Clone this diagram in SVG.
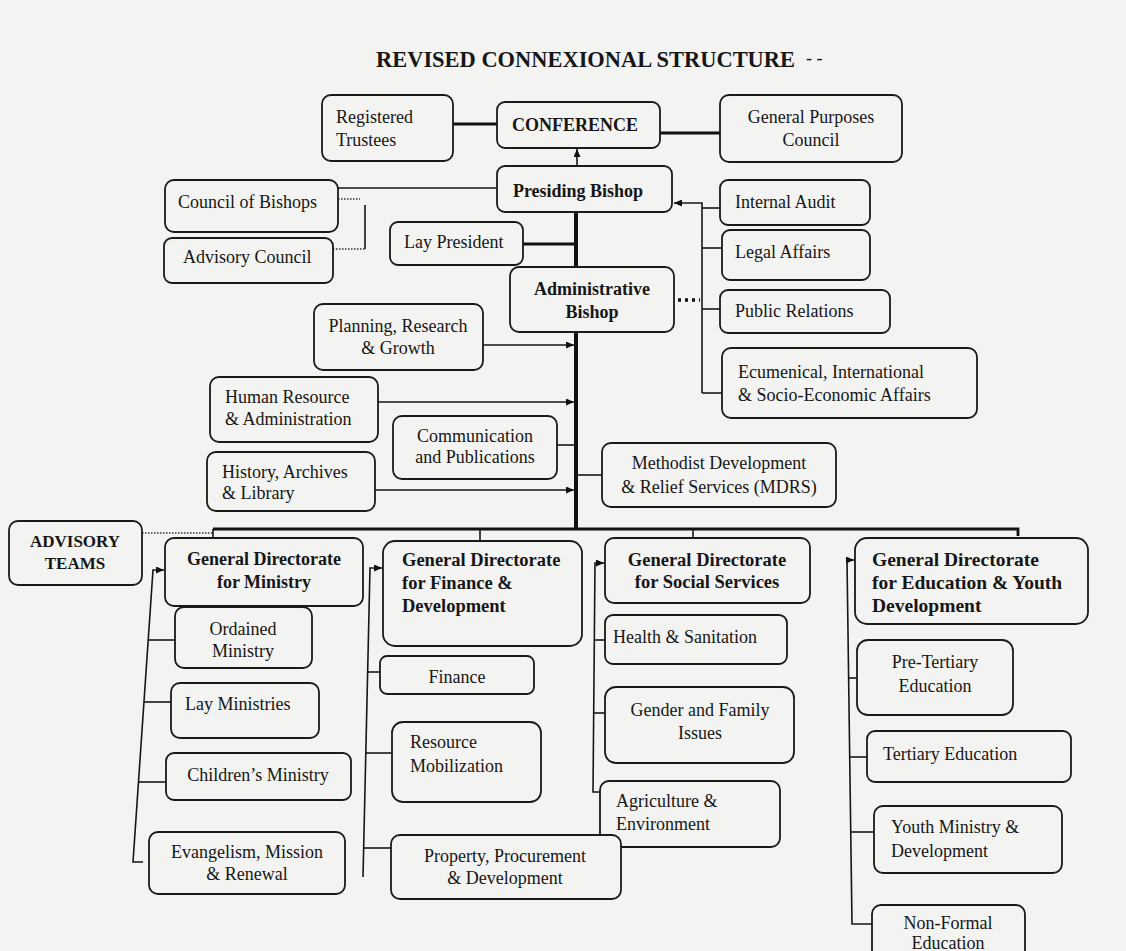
<svg xmlns="http://www.w3.org/2000/svg" width="1126" height="951" viewBox="0 0 1126 951">
<style>
.bg{fill:#f3f3f1}
.box{fill:#f3f3f1;stroke:#1a1a1a;stroke-width:1.8}
.t{font-family:"Liberation Serif","Times New Roman",serif;font-size:18px;fill:#161616}
.b{font-weight:bold}
.c{text-anchor:middle}
.f17{font-size:17px}
.f185{font-size:18.5px}
.f195{font-size:19.5px}
.ttl{font-size:23px}
.ln{fill:none;stroke:#161616;stroke-width:1.6}
.thk{fill:none;stroke:#111;stroke-width:4}
.med{fill:none;stroke:#111;stroke-width:2.8}
.dot{fill:none;stroke:#333;stroke-width:1.6;stroke-dasharray:1.5 1.5}
.dots3{fill:none;stroke:#111;stroke-width:3.5;stroke-dasharray:3 4}
</style>
<defs>
<marker id="arr" viewBox="0 0 8 7" refX="8" refY="3.5" markerWidth="8" markerHeight="7" markerUnits="userSpaceOnUse" orient="auto">
<path d="M0,0 L8,3.5 L0,7 z" fill="#111"/>
</marker>
</defs>
<rect class="bg" x="0" y="0" width="1126" height="951"/>
<text class="t b ttl" x="376" y="67" textLength="419" lengthAdjust="spacingAndGlyphs">REVISED CONNEXIONAL STRUCTURE</text>
<text class="t" x="806" y="64">-  -</text>

<g id="connectors">
<path class="med" d="M453,124 H497"/>
<path class="med" d="M660,133 H720"/>
<path class="ln" d="M577,166 V149" marker-end="url(#arr)"/>
<path class="ln" d="M338,188 H497"/>
<path class="dot" d="M338,199 H360"/>
<path class="ln" d="M365,205 V249"/>
<path class="dot" d="M333,249 H365"/>
<path class="thk" d="M576,212 V268"/>
<path class="thk" d="M576,332 V529"/>
<path class="med" d="M523,244 H576"/>
<path class="dots3" d="M678,300 H700"/>
<path class="ln" d="M702,393 V203 H674" marker-end="url(#arr)"/>
<path class="ln" d="M702,208 H721"/>
<path class="ln" d="M702,248 H722"/>
<path class="ln" d="M702,309 H720"/>
<path class="ln" d="M702,393 H722"/>
<path class="ln" d="M483,345 H574" marker-end="url(#arr)"/>
<path class="ln" d="M378,402 H574" marker-end="url(#arr)"/>
<path class="ln" d="M557,445 H576"/>
<path class="ln" d="M375,490 H574" marker-end="url(#arr)"/>
<path class="ln" d="M576,475 H602"/>
<path class="med" d="M213,529 H1018 V536"/>
<path class="dot" d="M142,533 H213"/>
<path class="ln" d="M213,529 V538"/>
<path class="ln" d="M480,529 V541"/>
<path class="ln" d="M693,529 V538"/>
<path class="ln" d="M143,862 H133 L153,570 H164" marker-end="url(#arr)"/>
<path class="ln" d="M148,640 H175"/>
<path class="ln" d="M144,702 H171"/>
<path class="ln" d="M138.5,782 H166"/>
<path class="ln" d="M363,877 L370,568 H382" marker-end="url(#arr)"/>
<path class="ln" d="M367.6,672 H380"/>
<path class="ln" d="M365.8,753 H392"/>
<path class="ln" d="M363.7,848 H391"/>
<path class="ln" d="M600,792 H593 L595,563 H604" marker-end="url(#arr)"/>
<path class="ln" d="M594.6,640 H605"/>
<path class="ln" d="M594,713 H605"/>
<path class="ln" d="M873,924 H852 L847,560 H854" marker-end="url(#arr)"/>
<path class="ln" d="M848.7,678 H857"/>
<path class="ln" d="M849.8,757 H867"/>
<path class="ln" d="M850.8,832 H874"/>
</g>

<g id="registered-trustees"><rect class="box" x="322" y="95" width="131" height="66" rx="9"/>
<text class="t" x="336" y="123">Registered</text><text class="t" x="336" y="146">Trustees</text></g>
<g id="conference"><rect class="box" x="497" y="102" width="163" height="46" rx="8"/>
<text class="t b c" x="575" y="131">CONFERENCE</text></g>
<g id="general-purposes-council"><rect class="box" x="720" y="95" width="182" height="67" rx="9"/>
<text class="t c" x="811" y="123">General Purposes</text><text class="t c" x="811" y="146">Council</text></g>
<g id="presiding-bishop"><rect class="box" x="497" y="166" width="175" height="46" rx="8"/>
<text class="t b c" x="578" y="197">Presiding Bishop</text></g>
<g id="council-of-bishops"><rect class="box" x="165" y="180" width="173" height="52" rx="9"/>
<text class="t" x="178" y="208">Council of Bishops</text></g>
<g id="advisory-council"><rect class="box" x="164" y="238" width="169" height="45" rx="8"/>
<text class="t" x="183" y="263">Advisory Council</text></g>
<g id="lay-president"><rect class="box" x="390" y="222" width="133" height="43" rx="8"/>
<text class="t" x="404" y="248">Lay President</text></g>
<g id="internal-audit"><rect class="box" x="720" y="180" width="150" height="45" rx="8"/>
<text class="t" x="735" y="208">Internal Audit</text></g>
<g id="legal-affairs"><rect class="box" x="722" y="230" width="148" height="50" rx="8"/>
<text class="t" x="735" y="258">Legal Affairs</text></g>
<g id="administrative-bishop"><rect class="box" x="510" y="267" width="164" height="65" rx="9"/>
<text class="t b c" x="592" y="295">Administrative</text><text class="t b c" x="592" y="318">Bishop</text></g>
<g id="public-relations"><rect class="box" x="720" y="290" width="170" height="43" rx="8"/>
<text class="t" x="735" y="317">Public Relations</text></g>
<g id="ecumenical"><rect class="box" x="722" y="348" width="255" height="70" rx="9"/>
<text class="t" x="738" y="378">Ecumenical, International</text><text class="t" x="738" y="401">&amp; Socio-Economic Affairs</text></g>
<g id="planning"><rect class="box" x="314" y="304" width="169" height="66" rx="9"/>
<text class="t c" x="398" y="332">Planning, Research</text><text class="t c" x="398" y="354">&amp; Growth</text></g>
<g id="human-resource"><rect class="box" x="210" y="377" width="168" height="65" rx="9"/>
<text class="t" x="225" y="403">Human Resource</text><text class="t" x="225" y="425">&amp; Administration</text></g>
<g id="communication"><rect class="box" x="393" y="416" width="164" height="63" rx="9"/>
<text class="t c" x="475" y="442">Communication</text><text class="t c" x="475" y="463">and Publications</text></g>
<g id="history"><rect class="box" x="207" y="452" width="168" height="59" rx="9"/>
<text class="t" x="222" y="478">History, Archives</text><text class="t" x="222" y="499">&amp; Library</text></g>
<g id="mdrs"><rect class="box" x="602" y="443" width="234" height="64" rx="9"/>
<text class="t c" x="719" y="469">Methodist Development</text><text class="t c" x="719" y="493">&amp; Relief Services (MDRS)</text></g>

<g id="advisory-teams"><rect class="box" x="9" y="521" width="133" height="64" rx="9"/>
<text class="t b c f17" x="75" y="547">ADVISORY</text><text class="t b c f17" x="75" y="569">TEAMS</text></g>

<g id="gd-ministry"><rect class="box" x="165" y="538" width="198" height="68" rx="9"/>
<text class="t b c" x="264" y="565">General Directorate</text><text class="t b c" x="264" y="588">for Ministry</text></g>
<g id="ordained-ministry"><rect class="box" x="175" y="607" width="137" height="61" rx="9"/>
<text class="t c" x="243" y="635">Ordained</text><text class="t c" x="243" y="657">Ministry</text></g>
<g id="lay-ministries"><rect class="box" x="171" y="683" width="148" height="55" rx="9"/>
<text class="t" x="185" y="710">Lay Ministries</text></g>
<g id="childrens-ministry"><rect class="box" x="166" y="753" width="185" height="47" rx="8"/>
<text class="t c" x="258" y="781">Children’s Ministry</text></g>
<g id="evangelism"><rect class="box" x="149" y="832" width="196" height="62" rx="9"/>
<text class="t c" x="247" y="858">Evangelism, Mission</text><text class="t c" x="247" y="880">&amp; Renewal</text></g>

<g id="gd-finance"><rect class="box" x="383" y="541" width="199" height="105" rx="12"/>
<text class="t b f185" x="402" y="566">General Directorate</text><text class="t b f185" x="402" y="589">for Finance &amp;</text><text class="t b f185" x="402" y="612">Development</text></g>
<g id="finance"><rect class="box" x="380" y="656" width="154" height="38" rx="7"/>
<text class="t c" x="457" y="683">Finance</text></g>
<g id="resource-mobilization"><rect class="box" x="392" y="722" width="149" height="80" rx="11"/>
<text class="t" x="410" y="748">Resource</text><text class="t" x="410" y="772">Mobilization</text></g>

<g id="gd-social"><rect class="box" x="605" y="538" width="205" height="65" rx="9"/>
<text class="t b c f185" x="707" y="566">General Directorate</text><text class="t b c f185" x="707" y="588">for Social Services</text></g>
<g id="health-sanitation"><rect class="box" x="605" y="615" width="182" height="49" rx="8"/>
<text class="t" x="613" y="643">Health &amp; Sanitation</text></g>
<g id="gender-family"><rect class="box" x="605" y="687" width="189" height="76" rx="11"/>
<text class="t c" x="700" y="716">Gender and Family</text><text class="t c" x="700" y="739">Issues</text></g>
<g id="agriculture"><rect class="box" x="600" y="781" width="180" height="66" rx="9"/>
<text class="t" x="616" y="807">Agriculture &amp;</text><text class="t" x="616" y="830">Environment</text></g>
<g id="property"><rect class="box" x="391" y="835" width="230" height="64" rx="9"/>
<text class="t c" x="505" y="862">Property, Procurement</text><text class="t c" x="505" y="884">&amp; Development</text></g>

<g id="gd-education"><rect class="box" x="855" y="538" width="233" height="86" rx="12"/>
<text class="t b f195" x="872" y="566">General Directorate</text><text class="t b f195" x="872" y="589">for Education &amp; Youth</text><text class="t b f195" x="872" y="612">Development</text></g>
<g id="pre-tertiary"><rect class="box" x="857" y="640" width="156" height="75" rx="11"/>
<text class="t c" x="935" y="668">Pre-Tertiary</text><text class="t c" x="935" y="692">Education</text></g>
<g id="tertiary"><rect class="box" x="867" y="731" width="204" height="51" rx="8"/>
<text class="t" x="883" y="760">Tertiary Education</text></g>
<g id="youth"><rect class="box" x="874" y="806" width="188" height="67" rx="9"/>
<text class="t" x="891" y="833">Youth Ministry &amp;</text><text class="t" x="891" y="857">Development</text></g>
<g id="non-formal"><rect class="box" x="872" y="905" width="153" height="70" rx="9"/>
<text class="t c" x="948" y="929">Non-Formal</text><text class="t c" x="948" y="949">Education</text></g>
</svg>
